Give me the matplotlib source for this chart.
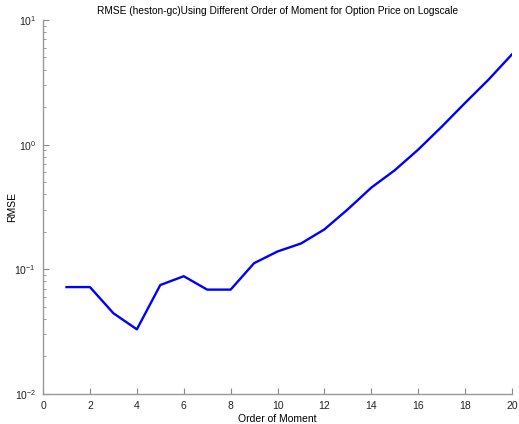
import matplotlib
matplotlib.use("Agg")
import matplotlib.pyplot as plt
from matplotlib.ticker import LogLocator, NullFormatter

# ====== Data ======
order = [1, 2, 3, 4, 5, 6, 7, 8, 9, 10, 11, 12, 13, 14, 15, 16, 17, 18, 19, 20]
rmse = [0.072, 0.072, 0.0444, 0.033, 0.0748, 0.088, 0.0687, 0.0687, 0.112, 0.139,
        0.161, 0.209, 0.303, 0.452, 0.623, 0.912, 1.39, 2.16, 3.32, 5.3]
xticks = [0, 2, 4, 6, 8, 10, 12, 14, 16, 18, 20]

plt.rcParams["font.family"] = ["Liberation Sans", "DejaVu Sans"]

fig = plt.figure(figsize=(5.19, 4.24), dpi=100)
ax = fig.add_axes([0.083, 0.0708, 0.9035, 0.8822])

ax.plot(order, rmse, color="#0000ff", linewidth=1.7)
ax.set_yscale("log")
ax.set_xlim(0, 20)
ax.set_ylim(1e-2, 1e1)
ax.set_xticks(xticks)
ax.yaxis.set_major_locator(LogLocator(base=10, numticks=10))
ax.yaxis.set_minor_locator(LogLocator(base=10, subs=range(2, 10), numticks=10))
ax.yaxis.set_minor_formatter(NullFormatter())

for side in ("top", "right"):
    ax.spines[side].set_visible(False)
for side in ("left", "bottom"):
    ax.spines[side].set_color("#999999")
    ax.spines[side].set_linewidth(1.0)

ax.tick_params(which="both", direction="in", colors="#888888", labelcolor="#222222",
               labelsize=7.5)
ax.tick_params(which="major", length=4, pad=5)
ax.tick_params(which="minor", length=2)

ax.set_title("RMSE (heston-gc)Using Different Order of Moment for Option Price on Logscale",
             fontsize=7.3, pad=4)
ax.set_xlabel("Order of Moment", fontsize=7.5, labelpad=2)
ax.set_ylabel("RMSE", fontsize=7.5)
ax.yaxis.set_label_coords(-0.056, 0.5)

fig.savefig("out.png", dpi=100)
